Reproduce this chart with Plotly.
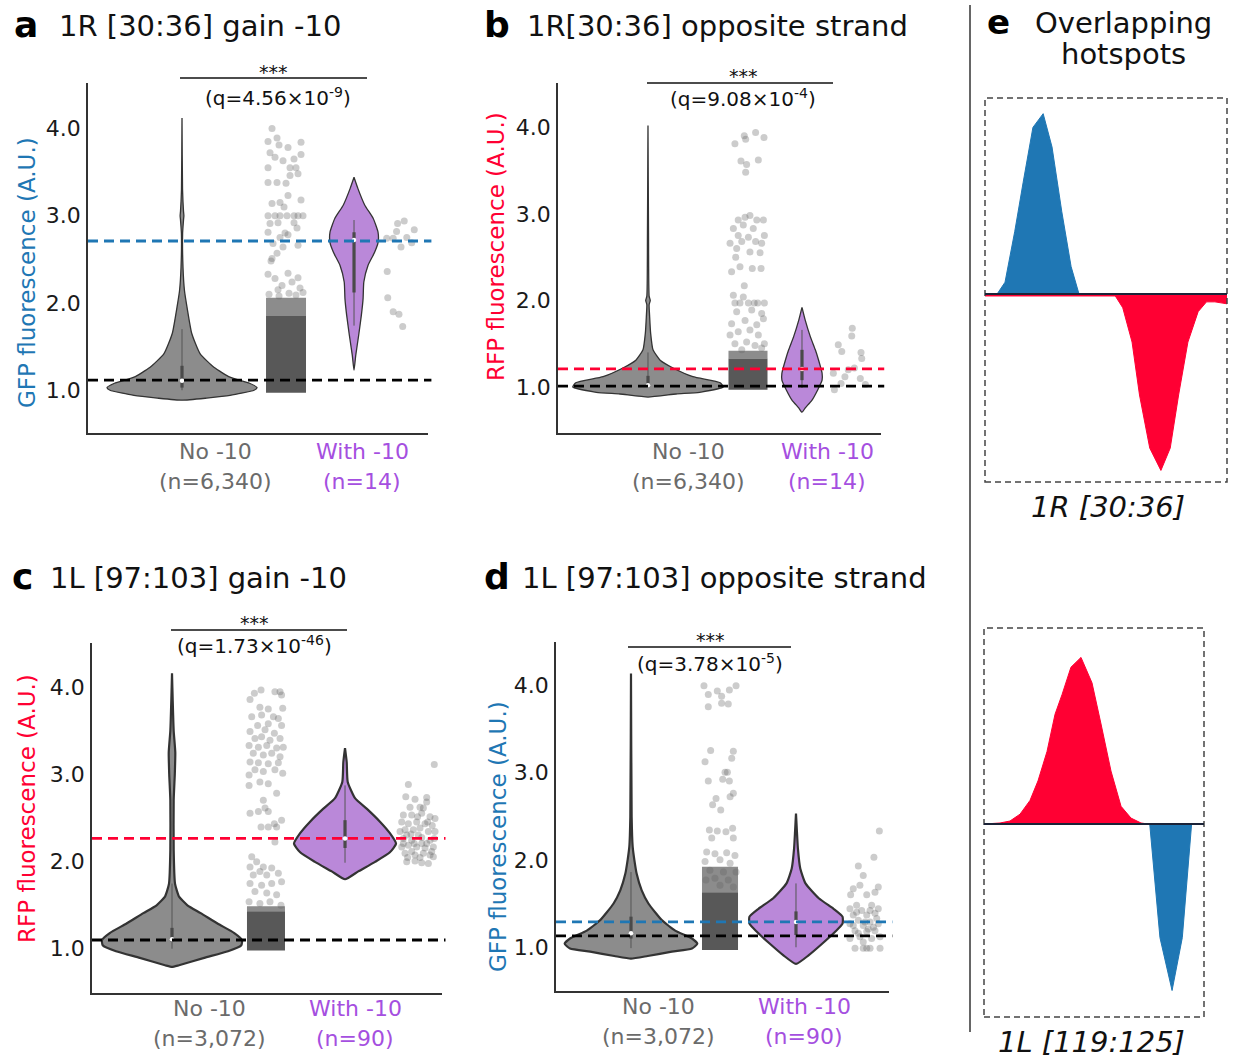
import plotly.graph_objects as go

W, H = 1238, 1061
FONT = "DejaVu Sans"
GRAY_FILL = "#8c8c8c"
PURPLE_FILL = "#ba88d9"
BLUE = "#1f77b4"
RED = "#ff0033"
LBL_GRAY = "#6b6b6b"
LBL_PURPLE = "#a54fe0"

# ---------------- data: panel a (1R [30:36] gain -10, GFP) ----------------
a_no_prof_y = [0.886, 0.91, 0.94, 1.0, 1.03, 1.08, 1.15, 1.26, 1.42, 1.65, 1.95, 2.14, 2.41, 2.8, 2.95, 3.0, 3.05, 3.3, 4.12]
a_no_prof_w = [0.0, 0.33, 0.64, 0.96, 1.0, 0.9, 0.64, 0.43, 0.24, 0.13, 0.067, 0.033, 0.013, 0.008, 0.02, 0.025, 0.02, 0.007, 0.0]
a_with_prof_y = [1.23, 1.40, 1.63, 1.86, 2.05, 2.24, 2.43, 2.58, 2.69, 2.81, 2.97, 3.12, 3.31, 3.44]
a_with_prof_w = [0.0, 0.07, 0.19, 0.30, 0.37, 0.40, 0.57, 0.84, 0.98, 0.98, 0.78, 0.44, 0.16, 0.0]
a_no_box = [1.0, 1.03, 1.11, 1.28, 1.7]
a_with_box = [1.74, 2.12, 2.72, 2.81, 2.95]
a_no_dense = [0.97, 1.85, 2.06]
a_no_pts_y = [4.0, 3.85, 3.89, 3.81, 3.78, 3.84, 3.72, 3.67, 3.63, 3.65, 3.70, 3.55, 3.55, 3.55, 3.46, 3.48, 3.38, 3.38, 3.37, 3.23,
              3.14, 3.15, 3.18, 3.10, 3.0, 3.0, 3.0, 3.0, 3.0, 3.0, 3.0, 2.91, 2.92, 2.92, 2.81, 2.80, 2.86, 2.75, 2.78, 2.68,
              2.64, 2.66, 2.57, 2.51, 2.48, 2.33, 2.28, 2.34, 2.29, 2.20, 2.24, 2.15, 2.17, 2.10, 2.08, 2.11, 2.09, 2.12]
a_no_pts_dx = [-0.7, -0.9, -0.45, -0.35, 0.1, 0.75, -0.8, -0.55, -0.15, 0.4, 0.75, -0.9, 0.2, 0.5, 0.2, 0.6, -0.9, -0.45, 0.0, 0.1,
               -0.7, -0.3, 0.75, -0.1, -0.9, -0.55, -0.3, 0.05, 0.4, 0.6, 0.85, -0.8, -0.4, 0.4, -0.9, -0.05, 0.55, -0.3, 0.1, -0.65,
               -0.15, 0.6, -0.45, -0.7, -0.75, -0.9, -0.55, 0.1, 0.6, -0.2, 0.3, -0.4, 0.7, -0.85, -0.35, 0.15, 0.5, 0.85]
a_with_pts_y = [2.91, 2.94, 2.84, 2.82, 2.74, 2.74, 2.75, 2.69, 2.64, 2.36, 2.06, 1.90, 1.87, 1.73]
a_with_pts_dx = [-0.14, 0.25, 0.84, -0.2, -0.78, -0.4, 0.4, 0.69, 0.06, -0.75, -0.72, -0.4, -0.06, 0.16]
a_ref_lines = [2.71, 1.115]

# ---------------- data: panel b (1R[30:36] opposite strand, RFP) ----------------
b_no_prof_y = [0.885, 0.92, 0.94, 1.0, 1.05, 1.12, 1.22, 1.31, 1.43, 1.62, 1.81, 1.95, 2.0, 2.05, 2.78, 4.02]
b_no_prof_w = [0.0, 0.37, 0.68, 0.99, 0.95, 0.59, 0.33, 0.16, 0.066, 0.035, 0.022, 0.015, 0.03, 0.015, 0.007, 0.0]
b_with_prof_y = [0.71, 0.76, 0.85, 0.97, 1.08, 1.16, 1.31, 1.43, 1.58, 1.77, 1.92]
b_with_prof_w = [0.0, 0.16, 0.49, 0.77, 0.98, 0.98, 0.81, 0.65, 0.41, 0.16, 0.0]
b_no_box = [0.99, 1.0, 1.02, 1.13, 1.4]
b_with_box = [0.99, 1.08, 1.21, 1.43, 1.66]
b_no_dense = [0.97, 1.33, 1.42]
b_no_pts_y = [3.90, 3.86, 3.81, 3.94, 3.88, 3.61, 3.57, 3.48, 3.62, 2.93, 2.96, 2.98, 2.93, 2.93, 2.83, 2.87, 2.83, 2.75, 2.75, 2.73,
              2.66, 2.68, 2.68, 2.66, 2.60, 2.56, 2.55, 2.50, 2.39, 2.33, 2.37, 2.37, 2.17, 2.06, 2.04, 1.97, 1.97, 1.97, 1.97, 1.97,
              1.97, 1.87, 1.89, 1.85, 1.73, 1.77, 1.72, 1.79, 1.64, 1.66, 1.60, 1.60, 1.50, 1.52, 1.48, 1.50, 1.43, 1.45]
b_no_pts_dx = [-0.19, -0.12, -0.67, 0.39, 0.82, -0.36, -0.07, -0.12, 0.53, -0.5, -0.15, 0.1, 0.45, 0.79, -0.75, -0.24, 0.27, 0.84, -0.5, 0.02,
               -0.92, -0.32, 0.39, 0.7, -0.58, 0.1, 0.62, -0.63, -0.41, -0.84, 0.22, 0.67, -0.19, -0.75, -0.24, -0.67, -0.41, 0.02, 0.32, 0.5,
               0.84, -0.58, 0.19, 0.7, -0.84, -0.15, 0.45, 0.79, -0.5, 0.1, -0.92, 0.53, -0.67, -0.07, 0.36, 0.84, -0.32, 0.7]
b_with_pts_y = [1.68, 1.59, 1.49, 1.41, 1.40, 1.33, 1.16, 1.20, 1.12, 1.22, 1.04, 0.97, 1.03, 1.10]
b_with_pts_dx = [0.13, 0.1, -0.67, -0.47, 0.63, 0.67, -0.95, -0.1, -0.29, 0.25, -0.51, -0.89, 0.88, 0.59]
b_ref_lines = [1.21, 1.01]

# ---------------- data: panel c (1L [97:103] gain -10, RFP) ----------------
c_no_prof_y = [0.78, 0.80, 0.885, 0.96, 1.03, 1.09, 1.17, 1.28, 1.40, 1.49, 1.59, 1.74, 2.13, 2.70, 3.0, 3.25, 3.5, 3.85, 4.16]
c_no_prof_w = [0.0, 0.1, 0.46, 0.8, 0.99, 1.0, 0.89, 0.65, 0.41, 0.22, 0.1, 0.043, 0.024, 0.024, 0.04, 0.047, 0.024, 0.01, 0.0]
c_with_prof_y = [1.79, 1.88, 1.99, 2.10, 2.20, 2.32, 2.45, 2.60, 2.72, 2.91, 3.14, 3.30]
c_with_prof_w = [0.0, 0.26, 0.59, 0.88, 1.0, 0.88, 0.69, 0.43, 0.2, 0.053, 0.033, 0.0]
c_no_box = [0.99, 1.07, 1.10, 1.23, 1.74]
c_with_box = [1.98, 2.15, 2.26, 2.47, 2.87]
c_no_dense = [0.97, 1.42, 1.48]
c_no_pts_y = [3.86, 3.97, 3.93, 3.95, 3.95, 3.91, 3.77, 3.75, 3.76, 3.66, 3.68, 3.66, 3.64, 3.56, 3.58, 3.56, 3.49, 3.51, 3.47, 3.41,
              3.43, 3.39, 3.41, 3.33, 3.31, 3.33, 3.30, 3.31, 3.24, 3.22, 3.24, 3.20, 3.14, 3.13, 3.12, 3.13, 3.05, 3.03, 3.05, 3.01,
              2.99, 2.91, 2.89, 2.87, 2.78, 2.70, 2.61, 2.57, 2.55, 2.57, 2.47, 2.43, 2.39, 2.39, 2.39, 2.22, 2.05, 1.99, 1.93, 1.93,
              1.92, 1.88, 1.84, 1.84, 1.86, 1.74, 1.72, 1.74, 1.76, 1.65, 1.63, 1.61, 1.53, 1.51, 1.53, 1.49]
c_no_pts_dx = [-0.84, -0.26, -0.61, 0.47, 0.74, 0.82, -0.32, 0.12, 0.88, -0.75, -0.23, 0.39, 0.65, -0.44, 0.12, 0.82, -0.84, -0.05, 0.44, -0.58,
               -0.23, 0.21, 0.74, -0.89, -0.4, 0.04, 0.56, 0.91, -0.67, -0.14, 0.3, 0.74, -0.84, -0.4, 0.12, 0.65, -0.58, -0.14, 0.47, 0.88,
               -0.89, -0.32, 0.12, -0.89, 0.56, -0.14, -0.05, 0.12, -0.84, -0.4, 0.82, 0.44, -0.26, 0.12, 0.56, 0.47, -0.75, -0.49, -0.14, -0.84,
               0.3, -0.32, -0.67, 0.04, 0.65, -0.84, -0.23, 0.3, 0.82, -0.58, 0.04, 0.56, -0.89, -0.32, 0.21, 0.79]
c_with_pts_y = [3.11, 2.88, 2.74, 2.71, 2.73, 2.62, 2.62, 2.53, 2.53, 2.55, 2.51, 2.49, 2.45, 2.43, 2.45, 2.43, 2.41, 2.36, 2.36, 2.38,
                2.34, 2.34, 2.26, 2.24, 2.27, 2.24, 2.16, 2.18, 2.16, 2.15, 2.16, 2.09, 2.07, 2.09, 2.07, 1.99, 2.00, 1.98, 1.97, 2.34,
                2.30, 2.20, 2.31, 2.26, 2.51, 2.04, 2.05, 2.61, 2.45, 2.20, 2.20, 2.11, 2.04, 2.11, 2.68, 2.30, 2.20]
c_with_pts_dx = [0.88, -0.52, -0.66, -0.16, 0.47, -0.43, 0.11, -0.79, -0.34, 0.2, 0.65, 0.92, -0.88, -0.52, -0.07, 0.38, 0.77, -0.7, -0.25, 0.11,
                 0.56, 0.92, -0.79, -0.34, 0.2, 0.65, -0.88, -0.52, -0.07, 0.38, 0.83, -0.7, -0.16, 0.29, 0.65, -0.61, -0.16, 0.2, 0.56, -0.97,
                 0.02, 0.47, -0.38, 0.88, -0.02, -0.56, 0.83, 0.29, 0.52, -0.79, -0.2, 0.74, 0.11, -0.34, 0.47, -0.61, 0.2]
c_ref_lines = [2.26, 1.09]

# ---------------- data: panel d (1L [97:103] opposite strand, GFP) ----------------
d_no_prof_y = [0.87, 0.90, 0.95, 0.985, 1.04, 1.10, 1.19, 1.31, 1.40, 1.50, 1.65, 1.84, 2.0, 2.15, 2.49, 4.13]
d_no_prof_w = [0.0, 0.25, 0.61, 0.91, 0.99, 0.91, 0.66, 0.46, 0.36, 0.26, 0.16, 0.085, 0.05, 0.025, 0.01, 0.0]
d_with_prof_y = [0.81, 0.91, 1.04, 1.18, 1.27, 1.35, 1.44, 1.56, 1.73, 1.90, 2.13, 2.32, 2.53]
d_with_prof_w = [0.0, 0.27, 0.55, 0.83, 0.98, 0.98, 0.79, 0.48, 0.2, 0.09, 0.04, 0.02, 0.0]
d_no_box = [0.99, 1.10, 1.16, 1.35, 1.86]
d_with_box = [1.0, 1.14, 1.29, 1.41, 1.73]
d_no_dense = [0.97, 1.63, 1.92]
d_no_pts_y = [3.99, 3.89, 3.93, 3.87, 3.79, 3.94, 3.99, 3.75, 3.78, 3.25, 3.24, 3.12, 3.16, 3.0, 3.0, 2.90, 2.92, 2.90, 2.76, 2.70,
              2.63, 2.57, 2.72, 2.34, 2.33, 2.32, 2.36, 2.25, 2.25, 2.09, 2.07, 2.08, 2.05, 1.98, 2.0, 1.96, 1.88, 1.86, 1.86, 1.79,
              1.77, 1.77, 1.71, 1.69]
d_no_pts_dx = [-0.89, -0.65, -0.15, 0.09, 0.09, 0.52, 0.89, -0.65, 0.46, -0.52, 0.74, -0.83, 0.65, 0.28, 0.41, -0.65, 0.15, 0.52, 0.74, -0.22,
               -0.41, 0.04, 0.56, -0.59, -0.15, 0.33, 0.7, -0.46, 0.74, -0.74, -0.28, 0.37, 0.83, -0.83, 0.0, 0.56, -0.56, 0.19, 0.89, -0.28,
               0.46, -0.78, 0.0, 0.74]
d_with_pts_y = [2.33, 2.03, 1.93, 1.82, 1.69, 1.71, 1.67, 1.60, 1.60, 1.63, 1.48, 1.44, 1.48, 1.44, 1.42, 1.37, 1.37, 1.39, 1.31, 1.29,
                1.27, 1.25, 1.27, 1.19, 1.18, 1.19, 1.12, 1.10, 1.10, 1.12, 1.06, 0.99, 0.99, 0.99, 0.99, 0.99, 1.40, 1.42, 1.29, 1.25,
                1.23, 1.16, 1.21, 1.33]
d_with_pts_dx = [0.82, 0.51, -0.38, -0.1, 0.76, -0.29, -0.67, -0.82, 0.1, 0.57, -0.48, -0.86, 0.38, 0.76, -0.19, -0.67, 0.1, 0.57, -0.38, 0.29,
                 -0.86, -0.1, 0.76, -0.57, 0.1, 0.57, -0.29, 0.38, -0.86, 0.86, -0.1, -0.57, -0.1, 0.1, 0.29, 0.86, -0.48, 0.29, 0.0, -0.67,
                 0.48, -0.38, 0.19, 0.67]
d_ref_lines = [1.29, 1.13]

# ---------------- data: panel e (overlapping hotspots) ----------------
e1_blue_x = [0, 1.3, 2.15, 3.2, 4.1, 5.15, 6.25, 7.2, 8.25, 9.25, 10.1]
e1_blue_y = [0, 0, 0.06, 0.32, 0.57, 0.85, 0.92, 0.75, 0.42, 0.14, 0]
e1_red_x = [0, 14.0, 14.8, 15.8, 16.6, 17.7, 18.9, 19.9, 20.8, 21.8, 22.9, 23.8, 24.7, 26.0]
e1_red_y = [-0.01, -0.01, -0.07, -0.245, -0.515, -0.786, -0.90, -0.786, -0.515, -0.245, -0.09, -0.04, -0.04, -0.05]
e2_red_x = [0.1, 1.72, 2.79, 3.87, 4.94, 5.8, 6.77, 7.63, 8.38, 9.34, 10.42, 11.6, 12.57, 13.64, 14.72, 15.79, 16.86, 17.6, 23.6]
e2_red_y = [0, 0.005, 0.015, 0.05, 0.12, 0.22, 0.37, 0.56, 0.66, 0.80, 0.85, 0.72, 0.51, 0.27, 0.09, 0.03, 0.005, 0, 0]
e2_blue_x = [17.8, 18.9, 20.2, 21.3, 22.3, 23.6]
e2_blue_y = [0, -0.58, -0.85, -0.58, 0, 0]

# ---------------- layout specs ----------------
def PX(x):
    return x / W


def PY(y):
    return 1 - y / H


panels = [
    dict(n="", dx=(88, 428), dy=(83, 433), yr=(0.51, 4.52), lw=1.3,
         vno=(0.2765, 0.2206), jno=(0.5824, 0.0588), vw=(0.7824, 0.0721), jw=(0.9176, 0.05),
         data=(a_no_prof_y, a_no_prof_w, a_with_prof_y, a_with_prof_w, a_no_box, a_with_box, a_no_dense,
               a_no_pts_y, a_no_pts_dx, a_with_pts_y, a_with_pts_dx),
         ref=a_ref_lines, refc=BLUE,
         letter="a", lpos=(12, 25), title="1R [30:36] gain -10", tpos=(57, 26),
         ytitle="GFP fluorescence (A.U.)", ytc=BLUE, ytpos=(27, 273),
         sig=(180, 367, 78, 273, 71, 278, 97, "(q=4.56×10<sup>-9</sup>)"),
         lab=((215, 362), 452, 481, "(n=6,340)", "(n=14)")),
    dict(n="2", dx=(558, 881), dy=(83, 433), yr=(0.47, 4.51), lw=1.3,
         vno=(0.2786, 0.2353), jno=(0.5882, 0.0604), vw=(0.7554, 0.0635), jw=(0.9040, 0.0542),
         data=(b_no_prof_y, b_no_prof_w, b_with_prof_y, b_with_prof_w, b_no_box, b_with_box, b_no_dense,
               b_no_pts_y, b_no_pts_dx, b_with_pts_y, b_with_pts_dx),
         ref=b_ref_lines, refc=RED,
         letter="b", lpos=(482, 25), title="1R[30:36] opposite strand", tpos=(525, 26),
         ytitle="RFP fluorescence (A.U.)", ytc=RED, ytpos=(496, 247),
         sig=(647, 833, 83, 743, 75, 743, 98, "(q=9.08×10<sup>-4</sup>)"),
         lab=((688, 827), 452, 481, "(n=6,340)", "(n=14)")),
    dict(n="3", dx=(92, 442), dy=(643, 993), yr=(0.48, 4.51), lw=2.2,
         vno=(0.2286, 0.2), jno=(0.4971, 0.0543), vw=(0.7229, 0.1457), jw=(0.9314, 0.0529),
         data=(c_no_prof_y, c_no_prof_w, c_with_prof_y, c_with_prof_w, c_no_box, c_with_box, c_no_dense,
               c_no_pts_y, c_no_pts_dx, c_with_pts_y, c_with_pts_dx),
         ref=c_ref_lines, refc=RED,
         letter="c", lpos=(10, 576), title="1L [97:103] gain -10", tpos=(48, 578),
         ytitle="RFP fluorescence (A.U.)", ytc=RED, ytpos=(27, 809),
         sig=(171, 347, 630, 254, 622, 254, 645, "(q=1.73×10<sup>-46</sup>)"),
         lab=((210, 355), 1008, 1038, "(n=3,072)", "(n=90)")),
    dict(n="4", dx=(556, 889), dy=(642, 991), yr=(0.50, 4.49), lw=2.2,
         vno=(0.2252, 0.2012), jno=(0.4925, 0.0541), vw=(0.7207, 0.1426), jw=(0.9279, 0.0526),
         data=(d_no_prof_y, d_no_prof_w, d_with_prof_y, d_with_prof_w, d_no_box, d_with_box, d_no_dense,
               d_no_pts_y, d_no_pts_dx, d_with_pts_y, d_with_pts_dx),
         ref=d_ref_lines, refc=BLUE,
         letter="d", lpos=(482, 576), title="1L [97:103] opposite strand", tpos=(520, 578),
         ytitle="GFP fluorescence (A.U.)", ytc=BLUE, ytpos=(498, 837),
         sig=(628, 791, 647, 710, 639, 710, 663, "(q=3.78×10<sup>-5</sup>)"),
         lab=((659, 804), 1006, 1036, "(n=3,072)", "(n=90)")),
]

fig = go.Figure()
shapes = []
annotations = []
layout_axes = {}


def ann(text, x, y, size, color="#111111", xanchor="center", yanchor="middle", bold=False, italic=False, angle=0):
    t = text
    if bold:
        t = "<b>" + t + "</b>"
    if italic:
        t = "<i>" + t + "</i>"
    annotations.append(dict(text=t, x=PX(x), y=PY(y), xref="paper", yref="paper", showarrow=False,
                            xanchor=xanchor, yanchor=yanchor, textangle=angle,
                            font=dict(family=FONT, size=size, color=color)))


def violin(xa, ya, cx, hw, ys, ws, fill, lw):
    xr = [cx + hw * w for w in ws]
    xl = [cx - hw * w for w in ws]
    fig.add_trace(go.Scatter(x=xr + xl[::-1], y=list(ys) + list(ys)[::-1], mode="lines", fill="toself",
                             fillcolor=fill, line=dict(color="#333333", width=lw, shape="spline", smoothing=0.5),
                             xaxis=xa, yaxis=ya, hoverinfo="skip", showlegend=False))


def inner_box(xa, ya, cx, box):
    lo, q1, med, q3, hi = box
    fig.add_trace(go.Scatter(x=[cx, cx], y=[lo, hi], mode="lines", line=dict(color="#555555", width=1),
                             xaxis=xa, yaxis=ya, hoverinfo="skip", showlegend=False))
    fig.add_trace(go.Scatter(x=[cx, cx], y=[q1, q3], mode="lines", line=dict(color="#4a4a4a", width=3.2),
                             xaxis=xa, yaxis=ya, hoverinfo="skip", showlegend=False))
    fig.add_trace(go.Scatter(x=[cx], y=[med], mode="markers", marker=dict(color="white", size=4.5),
                             xaxis=xa, yaxis=ya, hoverinfo="skip", showlegend=False))


def dense_block(xa, ya, cx, hw, dense):
    lo, hi, faint = dense
    fig.add_trace(go.Scatter(x=[cx - hw, cx + hw, cx + hw, cx - hw], y=[hi, hi, faint, faint], mode="lines",
                             fill="toself", fillcolor="rgba(95,95,95,0.72)", line=dict(width=0),
                             xaxis=xa, yaxis=ya, hoverinfo="skip", showlegend=False))
    fig.add_trace(go.Scatter(x=[cx - hw, cx + hw, cx + hw, cx - hw], y=[lo, lo, hi, hi], mode="lines",
                             fill="toself", fillcolor="#585858", line=dict(width=0),
                             xaxis=xa, yaxis=ya, hoverinfo="skip", showlegend=False))


def points(xa, ya, cx, hw, ys, dxs):
    fig.add_trace(go.Scatter(x=[cx + hw * d for d in dxs], y=ys, mode="markers",
                             marker=dict(color="rgba(95,95,95,0.32)", size=7, line=dict(width=0)),
                             xaxis=xa, yaxis=ya, hoverinfo="skip", showlegend=False))


for p in panels:
    n = p["n"]
    xa, ya = "x" + n, "y" + n
    (no_y, no_w, w_y, w_w, no_box, w_box, no_dense, no_py, no_pdx, w_py, w_pdx) = p["data"]
    violin(xa, ya, p["vno"][0], p["vno"][1], no_y, no_w, GRAY_FILL, p["lw"])
    inner_box(xa, ya, p["vno"][0], no_box)
    violin(xa, ya, p["vw"][0], p["vw"][1], w_y, w_w, PURPLE_FILL, p["lw"])
    inner_box(xa, ya, p["vw"][0], w_box)
    dense_block(xa, ya, p["jno"][0], p["jno"][1], no_dense)
    points(xa, ya, p["jno"][0], p["jno"][1], no_py, no_pdx)
    points(xa, ya, p["jw"][0], p["jw"][1], w_py, w_pdx)

    layout_axes["xaxis" + n] = dict(domain=[PX(p["dx"][0]), PX(p["dx"][1])], range=[0, 1], anchor=ya,
                                    showline=True, linecolor="#333333", linewidth=1.5, showticklabels=False,
                                    ticks="", showgrid=False, zeroline=False, fixedrange=True)
    layout_axes["yaxis" + n] = dict(domain=[PY(p["dy"][1]), PY(p["dy"][0])], range=list(p["yr"]), anchor=xa,
                                    showline=True, linecolor="#333333", linewidth=1.5,
                                    tickvals=[1, 2, 3, 4], ticktext=["1.0", "2.0", "3.0", "4.0"],
                                    tickfont=dict(family=FONT, size=22, color="#1a1a1a"), ticks="",
                                    ticklabelstandoff=1, showgrid=False, zeroline=False, fixedrange=True)

    # reference dashed lines
    xd = (xa + " domain")
    shapes.append(dict(type="line", xref=xd, yref=ya, x0=0, x1=1.01, y0=p["ref"][0], y1=p["ref"][0],
                       line=dict(color=p["refc"], width=2.8, dash="10px,6px")))
    shapes.append(dict(type="line", xref=xd, yref=ya, x0=0, x1=1.01, y0=p["ref"][1], y1=p["ref"][1],
                       line=dict(color="#000000", width=2.8, dash="10px,6px")))

    # titles
    ann(p["letter"], p["lpos"][0], p["lpos"][1], 36, "#000000", xanchor="left", bold=True)
    ann(p["title"], p["tpos"][0], p["tpos"][1], 29, "#111111", xanchor="left")
    ann(p["ytitle"], p["ytpos"][0], p["ytpos"][1], 23, p["ytc"], angle=-90)

    # significance bracket
    lx0, lx1, ly, sx, sy, qx, qy, qt = p["sig"]
    shapes.append(dict(type="line", xref="paper", yref="paper", x0=PX(lx0), x1=PX(lx1), y0=PY(ly), y1=PY(ly),
                       line=dict(color="#111111", width=1.5)))
    ann("***", sx, sy + 1, 19, "#111111")
    ann(qt, qx, qy, 20, "#111111")

    # category labels
    (cxn, cxw), y1, y2, nno, nw = p["lab"]
    ann("No -10", cxn, y1, 22, LBL_GRAY)
    ann(nno, cxn, y2, 22, LBL_GRAY)
    ann("With -10", cxw, y1, 22, LBL_PURPLE)
    ann(nw, cxw, y2, 22, LBL_PURPLE)

# ---------------- panel e ----------------
def area(xa, ya, xs, ys, color):
    fig.add_trace(go.Scatter(x=xs, y=ys, mode="lines", fill="tozeroy", fillcolor=color,
                             line=dict(color=color, width=1), xaxis=xa, yaxis=ya,
                             hoverinfo="skip", showlegend=False))


area("x5", "y5", e1_blue_x, e1_blue_y, BLUE)
area("x5", "y5", e1_red_x, e1_red_y, RED)
area("x6", "y6", e2_red_x, e2_red_y, RED)
area("x6", "y6", e2_blue_x, e2_blue_y, BLUE)

layout_axes["xaxis5"] = dict(domain=[PX(985), PX(1227)], range=[0, 26], anchor="y5", visible=False)
layout_axes["yaxis5"] = dict(domain=[PY(482), PY(98)], range=[-0.959, 1.0], anchor="x5", visible=False)
layout_axes["xaxis6"] = dict(domain=[PX(984), PX(1204)], range=[0, 23.63], anchor="y6", visible=False)
layout_axes["yaxis6"] = dict(domain=[PY(1017), PY(628)], range=[-0.985, 1.0], anchor="x6", visible=False)

for k in ("5", "6"):
    shapes.append(dict(type="rect", xref="x%s domain" % k, yref="y%s domain" % k, x0=0, x1=1, y0=0, y1=1,
                       line=dict(color="#444444", width=1.5, dash="6px,4px")))
    shapes.append(dict(type="line", xref="x%s domain" % k, yref="y" + k, x0=0, x1=1, y0=0, y1=0,
                       line=dict(color="#1b2338", width=2)))

shapes.append(dict(type="line", xref="paper", yref="paper", x0=PX(970), x1=PX(970), y0=PY(5), y1=PY(1032),
                   line=dict(color="#333333", width=1.5)))

ann("e", 985, 22, 34, "#000000", xanchor="left", bold=True)
ann("Overlapping", 1033, 23, 29, "#111111", xanchor="left")
ann("hotspots", 1123, 54, 29, "#111111")
ann("1R [30:36]", 1108, 507, 29, "#111111", italic=True)
ann("1L [119:125]", 1091, 1042, 29, "#111111", italic=True)

fig.update_layout(width=W, height=H, margin=dict(l=0, r=0, t=0, b=0), paper_bgcolor="white",
                  plot_bgcolor="white", showlegend=False, shapes=shapes, annotations=annotations,
                  font=dict(family=FONT), **layout_axes)

fig.write_html("out.html")
